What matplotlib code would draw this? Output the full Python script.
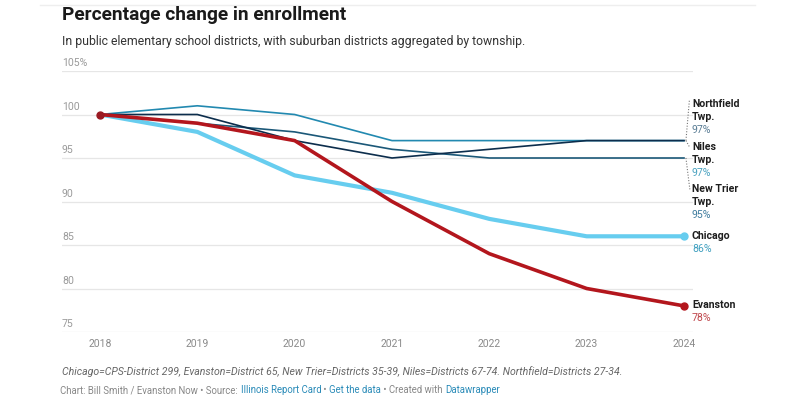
import matplotlib
matplotlib.use("Agg")
import matplotlib.pyplot as plt
from matplotlib.offsetbox import TextArea, HPacker, AnchoredOffsetbox

plt.rcParams['font.family'] = ['Roboto', 'DejaVu Sans']

# ---------------- data ----------------
years = [2018, 2019, 2020, 2021, 2022, 2023, 2024]
chicago = [100, 98, 93, 91, 88, 86, 86]
evanston = [100, 99, 97, 90, 84, 80, 78]
niles = [100, 101, 100, 97, 97, 97, 97]
northfield = [100, 100, 97, 95, 96, 97, 97]
new_trier = [100, 99, 98, 96, 95, 95, 95]
y_ticks = [75, 80, 85, 90, 95, 100, 105]
y_tick_labels = ['75', '80', '85', '90', '95', '100', '105%']

# ---------------- figure ----------------
fig = plt.figure(figsize=(8, 4), dpi=100)
ax = fig.add_axes([62/800, 1-332/400, 631/800, 261/400])
ax.set_xlim(2018 - 38/97.33, 2024 + 9/97.33)
ax.set_ylim(75, 105)
for s in ax.spines.values():
    s.set_visible(False)
ax.set_yticks([])
ax.set_xticks(years)
ax.set_xticklabels([str(y) for y in years], color='#8a8a8a', fontsize=7.5)
ax.tick_params(axis='x', length=0, pad=5)

for t in y_ticks:
    ax.axhline(t, color='#e6e6e6', lw=0.9, zorder=0)
for t, lab in zip(y_ticks, y_tick_labels):
    ax.annotate(lab, xy=(0, t), xycoords=('axes fraction', 'data'),
                xytext=(0, 3), textcoords='offset pixels',
                ha='left', va='bottom', color='#9a9a9a', fontsize=7.6)

c_niles = '#2289b0'
c_north = '#0c2d4c'
c_trier = '#1b5878'
c_chi = '#67cdef'
c_eva = '#b3161d'

ax.plot(years, niles, color=c_niles, lw=1.2, zorder=3)
ax.plot(years, new_trier, color=c_trier, lw=1.2, zorder=3)
ax.plot(years, northfield, color=c_north, lw=1.2, zorder=4)
ax.plot(years, chicago, color=c_chi, lw=3.0, zorder=5, solid_capstyle='round')
ax.plot(years, evanston, color=c_eva, lw=2.6, zorder=6, solid_capstyle='round')
ax.plot([years[-1]], [chicago[-1]], 'o', color=c_chi, ms=5, zorder=7)
ax.plot([years[-1]], [evanston[-1]], 'o', color=c_eva, ms=5, zorder=7)
ax.plot([years[0]], [evanston[0]], 'o', color='#9a1a22', ms=5, zorder=7)

# end labels
labels = [
    (['Northfield', 'Twp.'], f'{northfield[-1]}%', '#5a7d95', 101.2),
    (['Niles', 'Twp.'], f'{niles[-1]}%', '#4aa2c0', 96.3),
    (['New Trier', 'Twp.'], f'{new_trier[-1]}%', '#3f7c9e', 91.4),
    (['Chicago'], f'{chicago[-1]}%', '#3f9fbf', 86.0),
    (['Evanston'], f'{evanston[-1]}%', '#c0484d', 78.1),
]
lx = 2024 + 8/97.33
for names, pct, pc, ly in labels:
    i = 0
    for nm in names:
        ax.annotate(nm, xy=(lx, ly), xytext=(0, -13*i), textcoords='offset pixels',
                    ha='left', va='center', fontsize=7.6, fontweight='bold',
                    color='#1e1e1e', annotation_clip=False)
        i += 1
    ax.annotate(pct, xy=(lx, ly), xytext=(0, -13*i), textcoords='offset pixels',
                ha='left', va='center', fontsize=7.6, color=pc, annotation_clip=False)

# dotted connectors
conn = dict(color='#777777', lw=0.8, ls=(0, (1, 1.5)), clip_on=False, zorder=2)
ax.plot([2024.02, 2024.055], [northfield[-1], 101.6], **conn)
ax.plot([2024.02, 2024.06], [niles[-1], 96.2], **conn)
ax.plot([2024.02, 2024.06], [new_trier[-1], 91.4], **conn)

# titles
fig.text(62/800, 1-14.5/400, 'Percentage change in enrollment', fontsize=13.8,
         fontweight='bold', color='#1a1a1a', va='center', ha='left')
fig.text(62/800, 1-41/400,
         'In public elementary school districts, with suburban districts aggregated by township.',
         fontsize=8.8, color='#333333', va='center', ha='left')
fig.add_artist(plt.Line2D([40/800, 755/800], [1-5/400, 1-5/400], color='#eeeeee', lw=1))

# footer
fig.text(62/800, 1-372/400,
         'Chicago=CPS-District 299, Evanston=District 65, New Trier=Districts 35-39, '
         'Niles=Districts 67-74. Northfield=Districts 27-34.',
         fontsize=7.6, style='italic', color='#666666', va='center', ha='left')

parts = [('Chart: Bill Smith / Evanston Now • Source: ', '#888888'),
         ('Illinois Report Card', '#2a8bb8'),
         (' • ', '#888888'),
         ('Get the data', '#2a8bb8'),
         (' • Created with ', '#888888'),
         ('Datawrapper', '#2a8bb8')]
boxes = [TextArea(t, textprops=dict(color=c, fontsize=6.9)) for t, c in parts]
pack = HPacker(children=boxes, pad=0, sep=0)
ab = AnchoredOffsetbox(loc='center left', child=pack, pad=0, frameon=False,
                       bbox_to_anchor=(62/800 - 0.002, 1-390/400),
                       bbox_transform=fig.transFigure, borderpad=0)
fig.add_artist(ab)

fig.savefig('out.png', dpi=100, facecolor='white')
